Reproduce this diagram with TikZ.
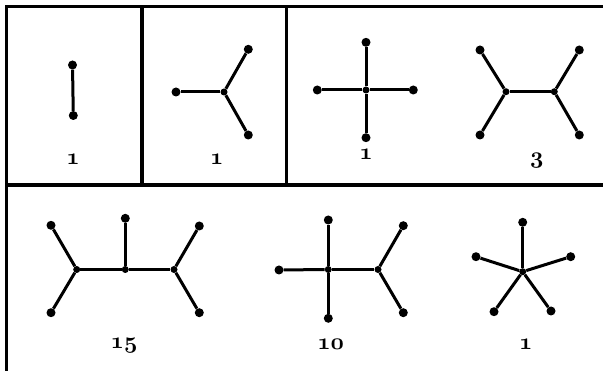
\documentclass[tikz,border=0pt]{standalone}
\usepackage{graphicx}
\usetikzlibrary{positioning}
% old-style digit from the math italic font
\newcommand{\ofig}[1]{\mathchar"013#1}
\newcommand{\cnt}[1]{\scalebox{1.12}{$#1$}}

\begin{document}
\begin{tikzpicture}[x=1pt,y=-1pt,
    leaf/.style={circle,fill=black,inner sep=0pt,minimum size=9pt},
    inner/.style={circle,fill=black,inner sep=0pt,minimum size=7pt},
    edge/.style={line width=3pt},
    frame/.style={line width=3.5pt},
    count/.style={anchor=base,inner sep=0pt,font=\fontsize{20}{22}\selectfont\boldmath}]
    \useasboundingbox (0,0) rectangle (603,371);
    % frame
    \draw[frame] (603,6.5) -- (6.5,6.5) -- (6.5,371);
    \draw[frame] (6.5,185) -- (603,185);
    \draw[frame] (142,6.5) -- (142,185);
    \draw[frame] (286.7,6.5) -- (286.7,185);
    % two leaves
    \node[leaf] (a1) at (72.5,65) {};
    \node[leaf] (a2) at (73.3,115.5) {};
    \draw[edge] (a1) -- (a2);
    \node[count] (na) at (73,165) {\cnt{\ofig1}};
    % three leaves
    \node[inner] (bc) at (224,92) {};
    \node[leaf] (b1) at (176,92) {};
    \node[leaf] (b2) at (248.3,49.3) {};
    \node[leaf] (b3) at (248.3,135) {};
    \draw[edge] (bc) -- (b1);
    \draw[edge] (bc) -- (b2);
    \draw[edge] (bc) -- (b3);
    \node[count] (nb) at (216.7,165) {\cnt{\ofig1}};
    % four leaves, one inner vertex
    \node[inner] (cc) at (366,90) {};
    \node[leaf] (c1) at (366,42.3) {};
    \node[leaf] (c2) at (366,137.7) {};
    \node[leaf] (c3) at (317.3,90) {};
    \node[leaf] (c4) at (413.3,90) {};
    \draw[edge] (cc) -- (c1);
    \draw[edge] (cc) -- (c2);
    \draw[edge] (cc) -- (c3);
    \draw[edge] (cc) -- (c4);
    \node[count] (nc) at (366,159.5) {\cnt{\ofig1}};
    % four leaves, two inner vertices
    \node[inner] (dl) at (506,91.7) {};
    \node[inner] (dr) at (554.3,91.7) {};
    \node[leaf] (d1) at (480,50) {};
    \node[leaf] (d2) at (480,135) {};
    \node[leaf] (d3) at (579.3,50) {};
    \node[leaf] (d4) at (579.3,135) {};
    \draw[edge] (dl) -- (dr);
    \draw[edge] (dl) -- (d1);
    \draw[edge] (dl) -- (d2);
    \draw[edge] (dr) -- (d3);
    \draw[edge] (dr) -- (d4);
    \node[count] (nd) at (536.7,164) {\cnt{\ofig3}};
    % five leaves, three inner vertices
    \node[inner] (el) at (76.7,269.5) {};
    \node[inner] (em) at (125.3,269.5) {};
    \node[inner] (er) at (174,269.5) {};
    \node[leaf] (e1) at (51,225.3) {};
    \node[leaf] (e2) at (51,312.7) {};
    \node[leaf] (e3) at (125.3,218.3) {};
    \node[leaf] (e4) at (199.3,226) {};
    \node[leaf] (e5) at (199.3,312.7) {};
    \draw[edge] (el) -- (em) -- (er);
    \draw[edge] (el) -- (e1);
    \draw[edge] (el) -- (e2);
    \draw[edge] (em) -- (e3);
    \draw[edge] (er) -- (e4);
    \draw[edge] (er) -- (e5);
    \node[count] (ne) at (124,349) {\cnt{\ofig1\ofig5}};
    % five leaves, two inner vertices
    \node[inner] (fl) at (328.3,269.5) {};
    \node[inner] (fr) at (378,269.5) {};
    \node[leaf] (f1) at (279,270) {};
    \node[leaf] (f2) at (328.3,220) {};
    \node[leaf] (f3) at (328.3,318.3) {};
    \node[leaf] (f4) at (403.3,225.7) {};
    \node[leaf] (f5) at (403.3,312.7) {};
    \draw[edge] (fl) -- (fr);
    \draw[edge] (fl) -- (f1);
    \draw[edge] (fl) -- (f2);
    \draw[edge] (fl) -- (f3);
    \draw[edge] (fr) -- (f4);
    \draw[edge] (fr) -- (f5);
    \node[count] (nf) at (330.7,350) {\cnt{\ofig1\ofig0}};
    % five leaves, one inner vertex
    \node[inner] (gc) at (522.7,271.7) {};
    \node[leaf] (g1) at (522.7,222.3) {};
    \node[leaf] (g2) at (476,256.7) {};
    \node[leaf] (g3) at (570.7,256.7) {};
    \node[leaf] (g4) at (494,311.7) {};
    \node[leaf] (g5) at (551,311) {};
    \draw[edge] (gc) -- (g1);
    \draw[edge] (gc) -- (g2);
    \draw[edge] (gc) -- (g3);
    \draw[edge] (gc) -- (g4);
    \draw[edge] (gc) -- (g5);
    \node[count] (ng) at (525.7,350) {\cnt{\ofig1}};
\end{tikzpicture}
\end{document}
